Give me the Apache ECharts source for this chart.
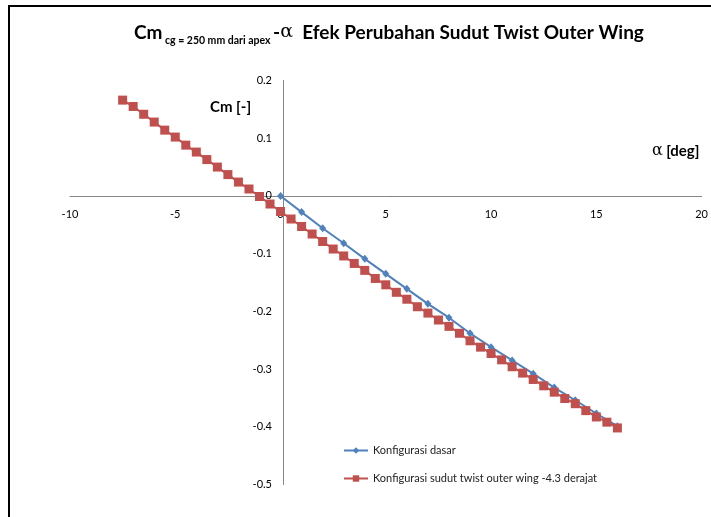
<!DOCTYPE html>
<html>
<head>
<meta charset="utf-8">
<script src="https://cdn.jsdelivr.net/npm/echarts@6/dist/echarts.min.js"></script>
<style>
html,body{margin:0;padding:0;background:#fff;}
#chart{width:711px;height:517px;}
</style>
</head>
<body>
<div id="chart"></div>
<script>
// Angle of attack (deg) and pitching moment coefficient for each configuration
const alphaBase = [0,1,2,3,4,5,6,7,8,9,10,11,12,13,14,15,16];
const cmBase = [0,-0.028,-0.056,-0.082,-0.109,-0.135,-0.161,-0.187,-0.211,-0.238,-0.262,-0.285,-0.308,-0.332,-0.354,-0.377,-0.399];

const alphaTwist = [-7.5,-7,-6.5,-6,-5.5,-5,-4.5,-4,-3.5,-3,-2.5,-2,-1.5,-1,-0.5,0,0.5,1,1.5,2,2.5,3,3.5,4,4.5,5,5.5,6,6.5,7,7.5,8,8.5,9,9.5,10,10.5,11,11.5,12,12.5,13,13.5,14,14.5,15,15.5,16];
const cmTwist = [0.166,0.155,0.1415,0.128,0.114,0.102,0.088,0.076,0.063,0.050,0.037,0.024,0.012,-0.001,-0.014,-0.027,-0.040,-0.053,-0.066,-0.079,-0.092,-0.104,-0.117,-0.129,-0.143,-0.154,-0.167,-0.179,-0.192,-0.203,-0.215,-0.226,-0.238,-0.251,-0.262,-0.273,-0.284,-0.296,-0.307,-0.318,-0.329,-0.340,-0.351,-0.360,-0.372,-0.383,-0.392,-0.402];

const seriesNames = ['Konfigurasi dasar', 'Konfigurasi sudut twist outer wing -4.3 derajat'];

// Axis ranges
const xMin = -10, xMax = 20, xStep = 5;
const yMin = -0.5, yMax = 0.2, yStep = 0.1;

const FONT = 'Lato, "Open Sans", sans-serif';
const GRID = {left: 70, right: 2, top: 80.5, bottom: 32.5};
const W = 711, H = 517;
const plotW = W - GRID.left - GRID.right;
const plotH = H - GRID.top - GRID.bottom;
// shift each axis so it crosses the other at zero (labels travel with it)
const xAxisOffset = -plotH * (0 - yMin) / (yMax - yMin);
const yAxisOffset = -plotW * (0 - xMin) / (xMax - xMin);

const chart = echarts.init(document.getElementById('chart'), null, {renderer: 'canvas'});

chart.setOption({
  backgroundColor: '#ffffff',
  animation: false,
  title: {
    text: '{a|Cm}{s| cg = 250 mm dari apex }{a|-}{g|α}{a|  Efek Perubahan Sudut Twist Outer Wing}',
    left: 129,
    top: 15,
    textStyle: {
      rich: {
        a: {fontFamily: FONT, fontWeight: 'bold', fontSize: 19, color: '#000', verticalAlign: 'bottom', lineHeight: 22},
        g: {fontFamily: '"DejaVu Serif", serif', fontWeight: 'normal', fontSize: 19, color: '#000', verticalAlign: 'bottom', lineHeight: 22},
        s: {fontFamily: FONT, fontWeight: 'bold', fontSize: 10.5, color: '#000', verticalAlign: 'bottom', lineHeight: 16, padding: [0,0,-4,0]}
      }
    }
  },
  graphic: [
    {type: 'polyline', shape: {points: [[9, 517], [9, 6], [711, 6]]}, style: {stroke: '#000', lineWidth: 2, fill: null}},
    {type: 'text', left: 210, top: 100, style: {text: 'Cm [-]', font: 'bold 15px ' + FONT, fill: '#000'}},
    {type: 'text', left: 652, top: 143, style: {
      text: '{g|α} {b|[deg]}',
      rich: {
        g: {fontFamily: '"DejaVu Serif", serif', fontSize: 16, fill: '#000'},
        b: {fontFamily: FONT, fontWeight: 'bold', fontSize: 15, fill: '#000'}
      }
    }}
  ],
  legend: {
    orient: 'vertical',
    left: 338,
    top: 440,
    itemGap: 17,
    itemWidth: 24,
    itemHeight: 8,
    textStyle: {fontFamily: FONT, fontSize: 11, color: '#222'},
    data: seriesNames
  },
  grid: {left: GRID.left, right: GRID.right, top: GRID.top, bottom: GRID.bottom, containLabel: false},
  xAxis: {
    type: 'value',
    min: xMin, max: xMax, interval: xStep,
    position: 'bottom',
    offset: xAxisOffset,
    axisLine: {onZero: false, lineStyle: {color: '#868686', width: 1}},
    axisTick: {show: false},
    splitLine: {show: false},
    axisLabel: {fontFamily: FONT, fontSize: 11, color: '#000', margin: 13}
  },
  yAxis: {
    type: 'value',
    min: yMin, max: yMax, interval: yStep,
    position: 'left',
    offset: yAxisOffset,
    axisLine: {onZero: false, lineStyle: {color: '#868686', width: 1}},
    axisTick: {show: false},
    splitLine: {show: false},
    axisLabel: {fontFamily: FONT, fontSize: 11, color: '#000', margin: 11,
      formatter: v => String(Math.round(v * 10) / 10)}
  },
  series: [
    {
      name: seriesNames[0],
      type: 'line',
      data: alphaBase.map((a, i) => [a, cmBase[i]]),
      symbol: 'diamond',
      symbolSize: [7, 8],
      itemStyle: {color: '#4F81BD'},
      lineStyle: {color: '#4F81BD', width: 2},
      z: 2
    },
    {
      name: seriesNames[1],
      type: 'line',
      data: alphaTwist.map((a, i) => [a, cmTwist[i]]),
      symbol: 'rect',
      symbolSize: 9,
      itemStyle: {color: '#C0504D'},
      lineStyle: {color: '#C0504D', width: 2},
      z: 3
    }
  ]
});
</script>
</body>
</html>
